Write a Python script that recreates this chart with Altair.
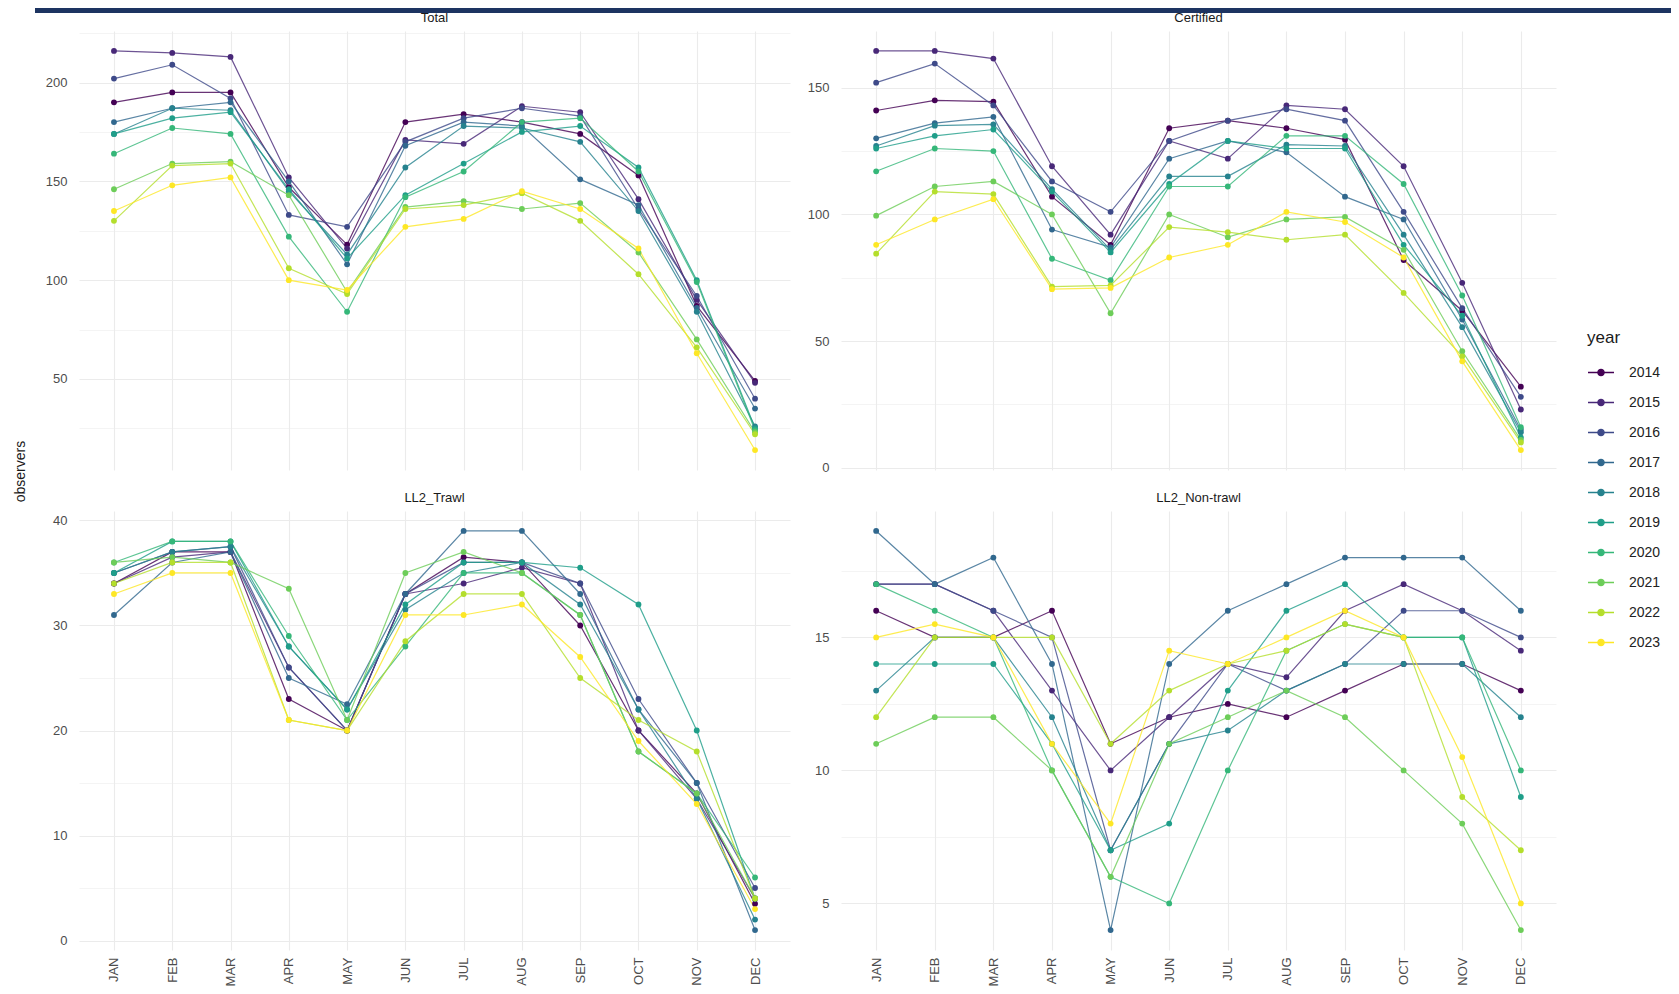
import altair as alt
import pandas as pd

MONTHS = ["JAN", "FEB", "MAR", "APR", "MAY", "JUN", "JUL", "AUG", "SEP", "OCT", "NOV", "DEC"]
YEARS = ["2014", "2015", "2016", "2017", "2018", "2019", "2020", "2021", "2022", "2023"]
COLORS = ["#440154", "#482878", "#3E4A89", "#31688E", "#26828E",
          "#1F9E89", "#35B779", "#6DCD59", "#B4DE2C", "#FDE725"]

TOTAL = {
    "2014": [190, 195, 195, 147, 118, 180, 184, 180, 174, 153, 87, 49],
    "2015": [216, 215, 213, 152, 116, 171, 169, 188, 185, 141, 90, 48],
    "2016": [202, 209, 192, 133, 127, 170, 182, 187, 183, 136, 92, 40],
    "2017": [180, 187, 190, 150, 108, 168, 180, 178, 151, 138, 86, 35],
    "2018": [174, 187, 186, 145, 113, 157, 178, 177, 170, 135, 84, 26],
    "2019": [174, 182, 185, 146, 111, 143, 159, 175, 178, 157, 100, 25],
    "2020": [164, 177, 174, 122, 84, 142, 155, 180, 182, 155, 99, 24],
    "2021": [146, 159, 160, 143, 94, 137, 140, 136, 139, 114, 70, 23],
    "2022": [130, 158, 159, 106, 93, 136, 138, 144, 130, 103, 66, 22],
    "2023": [135, 148, 152, 100, 95, 127, 131, 145, 136, 116, 63, 14],
}

CERTIFIED = {
    "2014": [141, 145, 144.5, 107, 88, 134, 137, 134, 129.5, 82, 62, 32],
    "2015": [164.5, 164.5, 161.5, 119, 92, 129, 122, 143, 141.5, 119, 73, 23],
    "2016": [152, 159.5, 143, 113, 101, 129, 137, 141.5, 137, 101, 63, 28],
    "2017": [130, 136, 138.5, 94, 87, 122, 129, 124.5, 107, 98, 58.5, 15],
    "2018": [127, 135, 135.5, 110, 86, 115, 115, 127.5, 127, 92, 55.5, 14],
    "2019": [126, 131, 133.5, 109, 85, 112, 129, 126, 126, 88, 60, 12],
    "2020": [117, 126, 125, 82.5, 74, 111, 111, 131, 131, 112, 68, 16],
    "2021": [99.5, 111, 113, 100, 61, 100, 91, 98, 99, 86, 46, 11],
    "2022": [84.5, 109, 108, 71.5, 72, 95, 93, 90, 92, 69, 44, 10],
    "2023": [88, 98, 106, 70.5, 71, 83, 88, 101, 97, 83, 42, 7],
}

LL2_TRAWL = {
    "2014": [34, 37, 37, 23, 20, 33, 36.5, 36, 30, 20, 14, 3.5],
    "2015": [34, 36.5, 37, 26, 20, 33, 34, 35.5, 34, 20, 13.5, 4],
    "2016": [35, 37, 37.5, 26, 20, 33, 36, 36, 34, 23, 15, 5],
    "2017": [31, 36, 37, 25, 22.5, 33, 39, 39, 33, 22, 15, 1],
    "2018": [35, 37, 37.5, 28, 22, 31.5, 35, 36, 32, 22, 13.5, 2],
    "2019": [35, 38, 38, 28, 22, 32, 36, 36, 35.5, 32, 20, 4],
    "2020": [36, 38, 38, 29, 21, 28, 35, 35, 31, 18, 14, 6],
    "2021": [36, 36.5, 36, 33.5, 21, 35, 37, 35, 31, 18, 14, 4],
    "2022": [34, 36, 36, 21, 20, 28.5, 33, 33, 25, 21, 18, 4],
    "2023": [33, 35, 35, 21, 20, 31, 31, 32, 27, 19, 13, 3],
}

LL2_NONTRAWL = {
    "2014": [16, 15, 15, 16, 11, 12, 12.5, 12, 13, 14, 14, 13],
    "2015": [17, 17, 16, 13, 10, 12, 14, 13.5, 16, 17, 16, 14.5],
    "2016": [17, 17, 16, 15, 7, 11, 14, 13, 14, 16, 16, 15],
    "2017": [19, 17, 18, 14, 4, 14, 16, 17, 18, 18, 18, 16],
    "2018": [13, 15, 15, 12, 7, 11, 11.5, 13, 14, 14, 14, 12],
    "2019": [14, 14, 14, 11, 7, 8, 13, 16, 17, 15, 15, 9],
    "2020": [17, 16, 15, 10, 6, 5, 10, 14.5, 15.5, 15, 15, 10],
    "2021": [11, 12, 12, 10, 6, 11, 12, 13, 12, 10, 8, 4],
    "2022": [12, 15, 15, 15, 11, 13, 14, 14.5, 15.5, 15, 9, 7],
    "2023": [15, 15.5, 15, 11, 8, 14.5, 14, 15, 16, 15, 10.5, 5],
}

FONT = "Liberation Sans"
GRID = "#EBEBEB"
PH = 439


def frame(table):
    rows = []
    for y, vals in table.items():
        for m, v in zip(MONTHS, vals):
            rows.append({"year": y, "month": m, "observers": v})
    return pd.DataFrame(rows)


def panel(table, title, step, show_x, width, ytitle=False, bar=False):
    df = frame(table)
    lo, hi = df["observers"].min(), df["observers"].max()
    pad = (hi - lo) * 0.05
    dom = [lo - pad, hi + pad]
    half = step / 2.0
    vals = []
    k = int(dom[0] // half) - 1
    while k * half <= dom[1]:
        v = k * half
        if dom[0] <= v <= dom[1]:
            vals.append(v)
        k += 1
    test = f"abs(datum.value % {step}) < 1e-9"
    axis_kw = dict(
        values=vals,
        labelExpr=f"{test} ? datum.label : ''",
        grid=True,
        gridColor=GRID,
        gridWidth={"condition": {"test": test, "value": 1.1}, "value": 0.55},
        ticks=False,
        domain=False,
        labelFontSize=13,
        labelColor="#4D4D4D",
        labelPadding=12,
        labelOverlap=False,
    )
    if ytitle:
        axis_kw.update(title="observers", titleX=-59, titleY=440, titleAngle=270,
                       titleAlign="center", titleBaseline="middle",
                       titleFontSize=14, titleFontWeight="normal", titleColor="#1A1A1A")
    else:
        axis_kw.update(title=None)
    y = alt.Y("observers:Q", scale=alt.Scale(domain=dom, nice=False, zero=False),
              axis=alt.Axis(**axis_kw))
    x = alt.X("month:N", sort=MONTHS,
              scale=alt.Scale(domain=MONTHS, padding=0.6),
              axis=alt.Axis(labels=show_x, labelAngle=270, labelAlign="right",
                            labelBaseline="middle", ticks=False, domain=False,
                            title=None, grid=True, gridColor=GRID, gridWidth=1.1,
                            labelFontSize=13, labelColor="#4D4D4D", labelPadding=7,
                            labelOverlap=False))
    color = alt.Color("year:N", scale=alt.Scale(domain=YEARS, range=COLORS),
                      legend=alt.Legend(title="year", orient="none",
                                        legendX=1508, legendY=299))
    base = alt.Chart(df).encode(x=x, y=y, color=color)
    lines = base.mark_line(strokeWidth=1.2, opacity=0.8)
    points = base.mark_point(filled=True, size=34, opacity=1)
    layers = [lines, points]
    offset = 6
    if bar:
        strip = alt.Chart(pd.DataFrame({"k": [0]})).mark_rect(color="#1D3461").encode(
            x=alt.value(-44), x2=alt.value(1592), y=alt.value(-23), y2=alt.value(-18))
        layers = [strip] + layers
        offset = -17
    return alt.layer(*layers).properties(
        width=width, height=PH,
        title=alt.TitleParams(title, fontSize=13, font=FONT, color="#1A1A1A",
                              fontWeight="normal", anchor="middle", offset=offset,
                              frame="group"))


tl = panel(TOTAL, "Total", 50, False, 711, ytitle=True, bar=True)
tr = panel(CERTIFIED, "Certified", 50, False, 715)
bl = panel(LL2_TRAWL, "LL2_Trawl", 10, True, 711)
br = panel(LL2_NONTRAWL, "LL2_Non-trawl", 5, True, 715)

chart = alt.concat(tl, tr, bl, br, columns=2, spacing={"row": 41, "column": 51},
                   bounds="flush").properties(
    padding={"left": 5, "top": 0, "right": 0, "bottom": 0}
).configure_view(stroke=None).configure_axis(
    labelFont=FONT, titleFont=FONT
).configure_legend(
    titleFont=FONT, titleFontSize=17, titleFontWeight="normal", titleColor="#1A1A1A",
    labelFont=FONT, labelFontSize=14, labelColor="#222222",
    symbolType="M-1,0H1M-0.24,0A0.24,0.24,0,1,0,0.24,0A0.24,0.24,0,1,0,-0.24,0Z",
    symbolSize=676, symbolStrokeWidth=1.3, rowPadding=9, labelOffset=14,
    titlePadding=11.5, padding=0, symbolOpacity=1
)

chart.save("out.html", embed_options={"renderer": "svg", "actions": False})
